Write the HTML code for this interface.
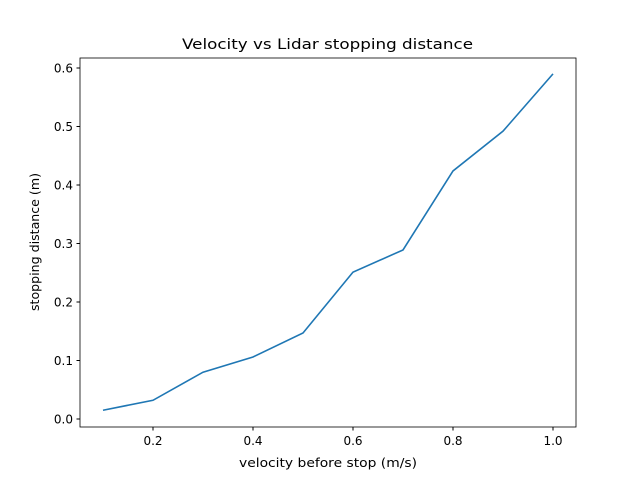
<!DOCTYPE html>
<html><head><meta charset="utf-8"><style>
html,body{margin:0;padding:0;background:#fff;}
svg{display:block;font-family:"DejaVu Sans","Liberation Sans",sans-serif;}
</style></head><body>
<svg id="chart" width="640" height="480">
<rect width="640" height="480" fill="#fff"/>
<text x="327.5" y="49" text-anchor="middle" font-size="14.5" textLength="291" lengthAdjust="spacingAndGlyphs">Velocity vs Lidar stopping distance</text>
<g id="xt"></g>
<g id="yt"></g>
<path id="line" fill="none" stroke="#1f77b4" stroke-width="1.6"/>
<rect x="80" y="58" width="496" height="369" fill="none" stroke="#000" stroke-width="0.8"/>
<text x="328" y="467" text-anchor="middle" font-size="12" textLength="178" lengthAdjust="spacingAndGlyphs">velocity before stop (m/s)</text>
<text transform="translate(39,242) rotate(-90)" text-anchor="middle" font-size="12" textLength="138" lengthAdjust="spacingAndGlyphs">stopping distance (m)</text>
</svg>
<script>
const velocities=[0.1,0.2,0.3,0.4,0.5,0.6,0.7,0.8,0.9,1.0];
const distances=[0.015,0.032,0.080,0.106,0.147,0.251,0.289,0.424,0.492,0.590];
const xTicks=[0.2,0.4,0.6,0.8,1.0];
const xTickLabels=["0.2","0.4","0.6","0.8","1.0"];
const yTicks=[0,0.1,0.2,0.3,0.4,0.5,0.6];
const yTickLabels=["0.0","0.1","0.2","0.3","0.4","0.5","0.6"];
const ns="http://www.w3.org/2000/svg";
const sx=v=>53+500*v, sy=v=>419-585*v;
const xt=document.getElementById('xt'), yt=document.getElementById('yt');
xTicks.forEach((t,i)=>{
 const l=document.createElementNS(ns,'line');
 l.setAttribute('x1',sx(t));l.setAttribute('x2',sx(t));l.setAttribute('y1',427);l.setAttribute('y2',430.5);l.setAttribute('stroke','#000');
 
 
 xt.appendChild(l);
 const tx=document.createElementNS(ns,'text');
 tx.setAttribute('x',sx(t));tx.setAttribute('y',445);tx.setAttribute('text-anchor','middle');tx.setAttribute('font-size','12');
 tx.textContent=xTickLabels[i];
 
 
 xt.appendChild(tx);
});
yTicks.forEach((t,i)=>{
 const l=document.createElementNS(ns,'line');
 l.setAttribute('x1',76.5);l.setAttribute('x2',80);l.setAttribute('y1',sy(t));l.setAttribute('y2',sy(t));l.setAttribute('stroke','#000');
 
 
 yt.appendChild(l);
 const tx=document.createElementNS(ns,'text');
 tx.setAttribute('x',73);tx.setAttribute('y',sy(t)+4.5);tx.setAttribute('text-anchor','end');tx.setAttribute('font-size','12');
 tx.textContent=yTickLabels[i];
 
 
 yt.appendChild(tx);
});
document.getElementById('line').setAttribute('d',velocities.map((v,i)=>(i?'L':'M')+sx(v)+','+sy(distances[i])).join(' '));
</script>
</body></html>
